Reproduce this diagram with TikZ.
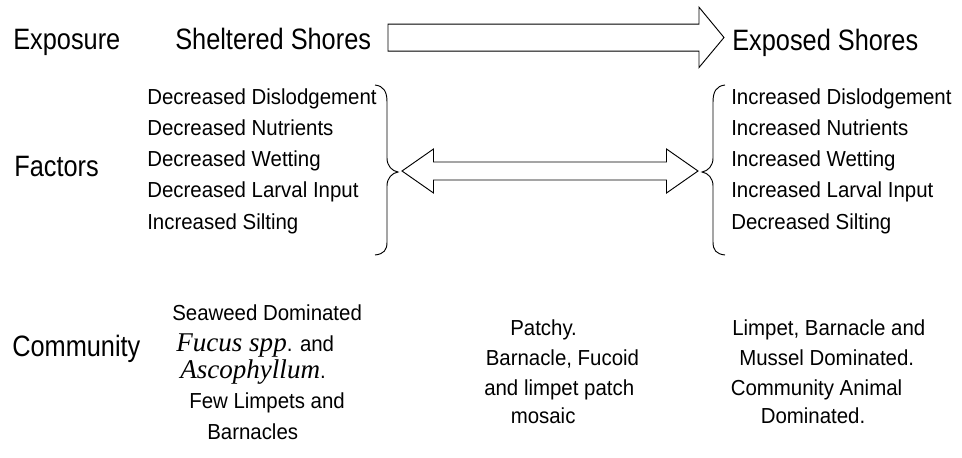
\documentclass[tikz,border=0pt]{standalone}
\usepackage{fontspec}
\setmainfont{Liberation Sans}
\newfontfamily\headfont{Liberation Sans}[FakeStretch=0.86]
\newfontfamily\bodyfont{Liberation Sans}[FakeStretch=0.94]
\newfontfamily\serifit{Liberation Serif}
\usepackage{tikz}
\usetikzlibrary{positioning}
\newcommand{\sci}[1]{{\fontsize{20.3}{24}\serifit\itshape #1}}
\tikzset{
  head/.style={font=\fontsize{22.1}{26}\headfont, anchor=base west, inner sep=0pt},
  fac/.style={font=\fontsize{16.3}{19}\bodyfont, anchor=base west, inner sep=0pt},
  blockarrow/.style={draw=black, fill=white, line width=0.7pt, line join=miter},
  brace/.style={draw=black, line width=0.7pt}
}

\begin{document}
\begin{tikzpicture}[x=0.75pt, y=-0.75pt]
        \useasboundingbox (0,0) rectangle (962,457);
        % Row titles
        \node[head] (expo) at (13,49.5) {Exposure};
        \node[head] (fact) at (14,176.5) {Factors};
        \node[head] (comm) at (12,356.5) {Community};
        % Shores
        \node[head] (shelt) at (175,49.5) {Sheltered Shores};
        \node[head] (expd) at (732,50) {Exposed Shores};
        % exposure arrow
        \coordinate (bigtail) at (388,37.5);
        \coordinate (bigtip) at (724,37.5);
        \draw[blockarrow] (bigtail) ++(0,-13.3) -- ++(311,0) -- ++(0,-17) -- (bigtip)
              -- ++(-25,30) -- ++(0,-16.4) -- ++(-311,0) -- cycle;
        % factors
        \foreach \t [count=\i] in {Decreased Dislodgement, Decreased Nutrients, Decreased Wetting,
                                   Decreased Larval Input, Increased Silting}
            \node[fac] (dec\i) at (147,72.7+31.3*\i) {\t};
        \foreach \t [count=\i] in {Increased Dislodgement, Increased Nutrients, Increased Wetting,
                                   Increased Larval Input, Decreased Silting}
            \node[fac] (inc\i) at (731,72.7+31.3*\i) {\t};
        % braces
        \draw[brace] (375,85) .. controls (384,86) and (387,92) .. (387,102) -- (387,158)
              .. controls (387,166) and (392,171) .. (398,172)
              .. controls (392,173) and (387,178) .. (387,186) -- (387,242)
              .. controls (387,250) and (384,254) .. (375,255);
        \draw[brace] (725,85) .. controls (716,86) and (713,92) .. (713,102) -- (713,158)
              .. controls (713,166) and (708,171) .. (702,172)
              .. controls (708,173) and (713,178) .. (713,186) -- (713,242)
              .. controls (713,250) and (716,254) .. (725,255);
        % double arrow
        \coordinate (dl) at (402,171);
        \coordinate (dr) at (698,171);
        \draw[blockarrow] (dl) -- ++(31.5,-22) -- ++(0,13) -- ++(233,0) -- ++(0,-13) -- (dr)
              -- ++(-31.5,22) -- ++(0,-13) -- ++(-233,0) -- ++(0,13) -- cycle;
        % community, sheltered
        \node[fac] (sw1) at (172,320) {Seaweed Dominated};
        \node[fac] (sw2) at (176,351.7) {\sci{Fucus spp}. and};
        \node[fac] (sw3) at (180,378) {\sci{Ascophyllum}.};
        \node[fac] (sw4) at (189,408) {Few Limpets and};
        \node[fac] (sw5) at (207,439) {Barnacles};
        % community, middle
        \node[fac] (pa1) at (510,335) {Patchy.};
        \node[fac] (pa2) at (485.5,365) {Barnacle, Fucoid};
        \node[fac] (pa3) at (484,395) {and limpet patch};
        \node[fac] (pa4) at (510.5,423.3) {mosaic};
        % community, exposed
        \node[fac] (an1) at (732,335) {Limpet, Barnacle and};
        \node[fac] (an2) at (739,365) {Mussel Dominated.};
        \node[fac] (an3) at (730.5,395) {Community Animal};
        \node[fac] (an4) at (760.5,423.3) {Dominated.};
      \end{tikzpicture}
\end{document}
